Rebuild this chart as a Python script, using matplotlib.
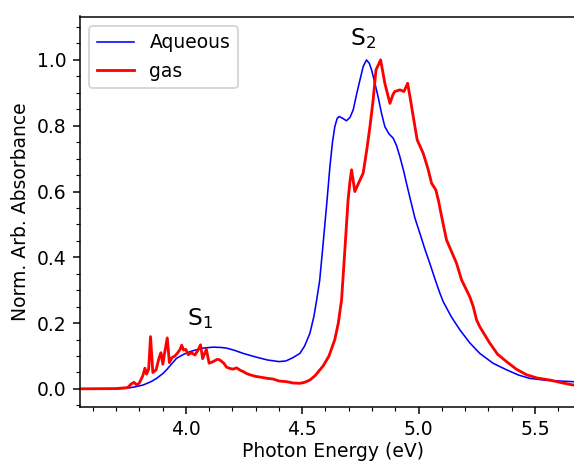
import matplotlib
matplotlib.use("Agg")
import matplotlib.pyplot as plt
from matplotlib.ticker import MultipleLocator

aq_energy = [3.50, 3.70, 3.745, 3.78, 3.817, 3.85, 3.874, 3.90, 3.917, 3.94, 3.96, 3.99,
             4.017, 4.045, 4.074, 4.117, 4.15, 4.175, 4.21, 4.246, 4.30, 4.35, 4.40, 4.43,
             4.46, 4.49, 4.51, 4.533, 4.55, 4.562, 4.575, 4.587, 4.605, 4.619, 4.63, 4.64,
             4.65, 4.659, 4.675, 4.69, 4.705, 4.719, 4.735, 4.748, 4.762, 4.776, 4.788,
             4.798, 4.812, 4.826, 4.84, 4.855, 4.873, 4.891, 4.905, 4.92, 4.935, 4.948,
             4.965, 4.984, 5.006, 5.027, 5.049, 5.07, 5.091, 5.106, 5.14, 5.178, 5.22,
             5.263, 5.32, 5.378, 5.43, 5.478, 5.55, 5.663, 5.75]
aq_abs = [0.0, 0.0, 0.002, 0.006, 0.012, 0.022, 0.032, 0.046, 0.058, 0.077, 0.093, 0.105,
          0.113, 0.119, 0.124, 0.127, 0.126, 0.124, 0.117, 0.108, 0.097, 0.088, 0.083, 0.085,
          0.095, 0.108, 0.13, 0.169, 0.22, 0.27, 0.33, 0.42, 0.56, 0.676, 0.75, 0.797,
          0.822, 0.828, 0.822, 0.815, 0.825, 0.848, 0.90, 0.939, 0.98, 1.0, 0.99,
          0.97, 0.93, 0.888, 0.84, 0.797, 0.775, 0.762, 0.74, 0.705, 0.665, 0.625,
          0.575, 0.52, 0.472, 0.425, 0.38, 0.335, 0.292, 0.265, 0.22, 0.179, 0.14,
          0.108, 0.078, 0.058, 0.042, 0.032, 0.026, 0.022, 0.02]

gas_energy = [3.50, 3.70, 3.75, 3.765, 3.777, 3.789, 3.80, 3.815, 3.824, 3.831, 3.84, 3.848,
              3.858, 3.872, 3.885, 3.893, 3.901, 3.91, 3.92, 3.929, 3.94, 3.953, 3.965,
              3.975, 3.982, 3.99, 4.00, 4.01, 4.024, 4.039, 4.053, 4.063, 4.072, 4.082,
              4.088, 4.10, 4.117, 4.135, 4.146, 4.163, 4.175, 4.19, 4.203, 4.218, 4.235,
              4.246, 4.26, 4.275, 4.30, 4.318, 4.35, 4.375, 4.40, 4.433, 4.46, 4.49, 4.51,
              4.533, 4.555, 4.576, 4.59, 4.615, 4.64, 4.655, 4.669, 4.683, 4.697, 4.705,
              4.712, 4.726, 4.745, 4.762, 4.778, 4.791, 4.805, 4.817, 4.837, 4.855, 4.877,
              4.89, 4.898, 4.92, 4.937, 4.953, 4.965, 4.977, 4.994, 5.02, 5.04, 5.056,
              5.074, 5.085, 5.099, 5.12, 5.163, 5.185, 5.22, 5.235, 5.249, 5.263, 5.306,
              5.34, 5.378, 5.42, 5.464, 5.51, 5.564, 5.62, 5.663, 5.75]
gas_abs = [0.0, 0.001, 0.004, 0.015, 0.02, 0.012, 0.018, 0.04, 0.063, 0.045, 0.06, 0.159,
           0.05, 0.058, 0.095, 0.11, 0.075, 0.115, 0.155, 0.08, 0.095, 0.10, 0.11,
           0.12, 0.133, 0.118, 0.12, 0.104, 0.11, 0.103, 0.119, 0.134, 0.092, 0.11,
           0.12, 0.078, 0.083, 0.09, 0.088, 0.078, 0.066, 0.062, 0.06, 0.064, 0.056,
           0.053, 0.047, 0.043, 0.038, 0.036, 0.032, 0.03, 0.024, 0.022, 0.018, 0.017, 0.02,
           0.027, 0.04, 0.058, 0.07, 0.10, 0.15, 0.20, 0.27, 0.42, 0.574, 0.63,
           0.666, 0.60, 0.63, 0.656, 0.73, 0.797, 0.88, 0.97, 1.0, 0.929, 0.868,
           0.895, 0.904, 0.909, 0.904, 0.929, 0.88, 0.828, 0.757, 0.716, 0.67, 0.625,
           0.605, 0.574, 0.524, 0.453, 0.382, 0.331, 0.28, 0.25, 0.21, 0.189, 0.139,
           0.105, 0.083, 0.06, 0.043, 0.033, 0.027, 0.018, 0.012, 0.008]

W, H = 574, 462
DPI = 135
fig = plt.figure(figsize=(W / DPI, H / DPI), dpi=DPI)
left_px, right_px, top_px, bottom_px = 80, 586, 16.5, 407
ax = fig.add_axes([left_px / W, 1 - bottom_px / H, (right_px - left_px) / W, (bottom_px - top_px) / H])

ax.plot(aq_energy, aq_abs, color="blue", lw=0.85, label="Aqueous")
ax.plot(gas_energy, gas_abs, color="red", lw=1.5, label="gas")

ax.set_xlim(3.545, 3.545 + (right_px - left_px) / 232.7)
ax.set_ylim(-0.055, 1.132)
ax.xaxis.set_major_locator(MultipleLocator(0.5))
ax.xaxis.set_minor_locator(MultipleLocator(0.1))
ax.yaxis.set_major_locator(MultipleLocator(0.2))
ax.yaxis.set_minor_locator(MultipleLocator(0.05))
ax.tick_params(labelsize=10)
ax.set_xlabel("Photon Energy (eV)", fontsize=10, labelpad=1.5)
ax.set_ylabel("Norm. Arb. Absorbance", fontsize=10)

ax.text(4.06, 0.215, "S$_1$", fontsize=12.5, ha="center", va="center")
ax.text(4.76, 1.065, "S$_2$", fontsize=12.5, ha="center", va="center")

ax.legend(loc="upper left", fontsize=10)

fig.savefig("out.png", dpi=DPI)
